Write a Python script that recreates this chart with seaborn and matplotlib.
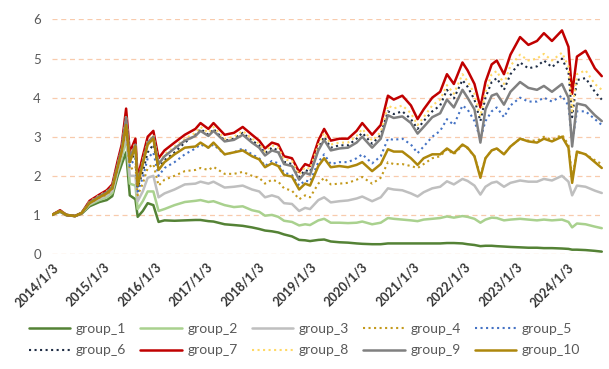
import pandas as pd
import matplotlib
matplotlib.use("Agg")
import matplotlib.pyplot as plt
import seaborn as sns

# sample dates
dates = [
    "2014-01-03", "2014-03-01", "2014-04-15", "2014-06-15", "2014-08-01", "2014-09-26", "2014-12-05",
    "2015-01-26", "2015-03-06", "2015-04-13", "2015-05-12", "2015-06-12", "2015-07-08", "2015-08-17",
    "2015-09-02", "2015-10-08", "2015-11-12", "2015-12-22", "2016-01-28", "2016-03-10", "2016-05-20",
    "2016-08-01", "2016-10-15", "2016-11-20", "2017-01-15", "2017-02-20", "2017-05-10", "2017-07-15",
    "2017-09-15", "2017-11-20", "2018-01-10", "2018-02-20", "2018-04-10", "2018-05-25", "2018-07-05",
    "2018-08-30", "2018-10-20", "2018-12-01", "2019-01-05", "2019-03-05", "2019-04-15", "2019-06-01",
    "2019-08-01", "2019-10-01", "2019-12-01", "2020-01-10", "2020-03-20", "2020-05-20", "2020-07-10",
    "2020-08-20", "2020-10-20", "2020-12-20", "2021-02-05", "2021-03-20", "2021-05-20", "2021-07-15",
    "2021-09-01", "2021-10-20", "2021-12-20", "2022-01-25", "2022-03-15", "2022-04-26", "2022-06-01",
    "2022-07-15", "2022-08-20", "2022-10-10", "2022-11-25", "2023-02-01", "2023-04-01", "2023-06-01",
    "2023-07-20", "2023-09-15", "2023-11-25", "2024-01-10", "2024-02-05", "2024-03-10", "2024-05-10",
    "2024-07-15", "2024-09-02",
]

group_1 = [1.0, 1.08, 0.99, 0.97, 1.03, 1.22, 1.33, 1.38, 1.48, 2.0, 2.3, 2.6, 1.5, 1.4, 0.95, 1.1, 1.3, 1.25,
           0.82, 0.86, 0.85, 0.86, 0.87, 0.87, 0.84, 0.83, 0.76, 0.74, 0.72, 0.68, 0.64, 0.6, 0.58, 0.55, 0.5,
           0.45, 0.36, 0.35, 0.33, 0.36, 0.37, 0.32, 0.3, 0.29, 0.27, 0.26, 0.25, 0.25, 0.27, 0.27, 0.27, 0.27,
           0.27, 0.27, 0.27, 0.27, 0.28, 0.28, 0.27, 0.25, 0.23, 0.2, 0.21, 0.21, 0.2, 0.19, 0.18, 0.17, 0.16,
           0.16, 0.15, 0.15, 0.14, 0.13, 0.11, 0.11, 0.1, 0.08, 0.06]
group_2 = [1.0, 1.1, 1.0, 0.97, 1.05, 1.26, 1.38, 1.45, 1.56, 2.1, 2.45, 2.95, 1.8, 1.75, 1.15, 1.35, 1.6, 1.6,
           1.1, 1.15, 1.25, 1.33, 1.36, 1.38, 1.33, 1.35, 1.25, 1.2, 1.22, 1.12, 1.08, 0.98, 1.0, 0.95, 0.85,
           0.82, 0.73, 0.76, 0.74, 0.86, 0.9, 0.8, 0.8, 0.79, 0.8, 0.83, 0.76, 0.8, 0.92, 0.9, 0.88, 0.86,
           0.84, 0.88, 0.9, 0.92, 0.96, 0.93, 0.97, 0.95, 0.9, 0.8, 0.88, 0.93, 0.92, 0.86, 0.88, 0.9, 0.88,
           0.86, 0.88, 0.86, 0.88, 0.82, 0.68, 0.78, 0.76, 0.7, 0.66]
group_3 = [1.0, 1.1, 1.0, 0.97, 1.05, 1.28, 1.42, 1.5, 1.62, 2.15, 2.55, 3.1, 2.0, 2.0, 1.35, 1.6, 1.95, 2.0,
           1.45, 1.55, 1.65, 1.78, 1.8, 1.85, 1.8, 1.85, 1.7, 1.72, 1.75, 1.65, 1.6, 1.45, 1.5, 1.45, 1.3,
           1.28, 1.1, 1.18, 1.15, 1.38, 1.45, 1.32, 1.35, 1.37, 1.42, 1.47, 1.35, 1.45, 1.68, 1.65, 1.63, 1.55,
           1.47, 1.58, 1.68, 1.72, 1.86, 1.78, 1.92, 1.87, 1.75, 1.52, 1.72, 1.82, 1.85, 1.72, 1.82, 1.88, 1.85,
           1.85, 1.92, 1.88, 2.0, 1.85, 1.5, 1.75, 1.72, 1.62, 1.56]
group_4 = [1.0, 1.1, 1.0, 0.97, 1.05, 1.3, 1.44, 1.52, 1.65, 2.2, 2.6, 3.2, 2.15, 2.25, 1.5, 1.8, 2.2, 2.3,
           1.75, 1.9, 2.0, 2.12, 2.15, 2.2, 2.15, 2.23, 2.05, 2.05, 2.1, 2.0, 1.95, 1.8, 1.9, 1.85, 1.68,
           1.62, 1.4, 1.5, 1.45, 1.8, 1.95, 1.78, 1.8, 1.82, 1.9, 1.97, 1.8, 1.95, 2.35, 2.3, 2.3, 2.25,
           2.2, 2.3, 2.45, 2.5, 2.68, 2.55, 2.78, 2.7, 2.5, 2.0, 2.45, 2.65, 2.7, 2.55, 2.75, 2.95, 2.9,
           2.9, 3.0, 2.92, 3.05, 2.8, 1.95, 2.6, 2.55, 2.4, 2.3]
group_5 = [1.0, 1.1, 1.0, 0.97, 1.05, 1.31, 1.46, 1.55, 1.68, 2.22, 2.62, 3.3, 2.25, 2.45, 1.6, 1.95, 2.45, 2.6,
           2.0, 2.2, 2.35, 2.55, 2.7, 2.8, 2.72, 2.8, 2.55, 2.6, 2.7, 2.55, 2.45, 2.25, 2.38, 2.32, 2.08,
           2.02, 1.75, 1.88, 1.85, 2.35, 2.55, 2.3, 2.35, 2.35, 2.45, 2.55, 2.32, 2.5, 2.95, 2.92, 2.95, 2.8,
           2.58, 2.75, 3.0, 3.15, 3.45, 3.3, 3.8, 3.7, 3.4, 2.95, 3.4, 3.65, 3.75, 3.5, 3.8, 4.0, 3.9,
           3.9, 4.0, 3.9, 4.05, 3.8, 2.85, 3.65, 3.65, 3.45, 3.3]
group_6 = [1.0, 1.1, 1.0, 0.97, 1.05, 1.33, 1.48, 1.57, 1.7, 2.25, 2.66, 3.4, 2.35, 2.6, 1.7, 2.1, 2.6, 2.8,
           2.2, 2.4, 2.6, 2.85, 3.05, 3.2, 3.05, 3.2, 2.9, 2.95, 3.1, 2.9, 2.78, 2.58, 2.72, 2.65, 2.36,
           2.3, 1.97, 2.15, 2.1, 2.72, 3.0, 2.72, 2.78, 2.78, 2.95, 3.1, 2.82, 3.05, 3.65, 3.58, 3.65, 3.45,
           3.2, 3.4, 3.65, 3.8, 4.2, 3.98, 4.45, 4.28, 3.95, 3.4, 4.0, 4.4, 4.5, 4.2, 4.6, 4.9, 4.75,
           4.8, 4.95, 4.78, 5.0, 4.65, 3.5, 4.45, 4.5, 4.15, 3.95]
group_7 = [1.0, 1.12, 1.0, 0.97, 1.05, 1.36, 1.52, 1.63, 1.78, 2.38, 2.8, 3.72, 2.6, 2.95, 1.95, 2.5, 3.0, 3.15,
           2.45, 2.65, 2.85, 3.05, 3.2, 3.35, 3.2, 3.35, 3.05, 3.1, 3.25, 3.05, 2.9, 2.7, 2.85, 2.8, 2.5,
           2.45, 2.1, 2.3, 2.25, 2.9, 3.2, 2.9, 2.95, 2.95, 3.15, 3.35, 3.05, 3.3, 4.05, 3.95, 4.05, 3.8,
           3.45, 3.7, 4.0, 4.15, 4.6, 4.35, 4.9, 4.7, 4.35, 3.75, 4.4, 4.85, 4.95, 4.6, 5.1, 5.55, 5.35,
           5.45, 5.65, 5.45, 5.72, 5.3, 4.1, 5.05, 5.2, 4.75, 4.55]
group_8 = [1.0, 1.11, 1.0, 0.97, 1.05, 1.34, 1.5, 1.6, 1.74, 2.3, 2.72, 3.55, 2.5, 2.85, 1.85, 2.4, 2.9, 3.05,
           2.35, 2.55, 2.75, 2.95, 3.1, 3.25, 3.1, 3.25, 2.95, 3.0, 3.15, 2.95, 2.82, 2.62, 2.78, 2.72, 2.42,
           2.38, 2.03, 2.22, 2.18, 2.8, 3.1, 2.8, 2.85, 2.85, 3.02, 3.2, 2.9, 3.12, 3.8, 3.72, 3.8, 3.6,
           3.3, 3.5, 3.8, 3.95, 4.32, 4.1, 4.6, 4.42, 4.1, 3.52, 4.15, 4.6, 4.68, 4.35, 4.82, 5.1, 4.95,
           5.0, 5.12, 4.95, 5.15, 4.8, 3.65, 4.6, 4.7, 4.35, 4.2]
group_9 = [1.0, 1.1, 1.0, 0.97, 1.05, 1.32, 1.48, 1.58, 1.72, 2.28, 2.7, 3.5, 2.45, 2.8, 1.8, 2.35, 2.85, 3.0,
           2.3, 2.5, 2.7, 2.9, 3.02, 3.15, 3.02, 3.15, 2.88, 2.92, 3.05, 2.85, 2.72, 2.52, 2.65, 2.6, 2.3,
           2.25, 1.9, 2.08, 2.03, 2.65, 2.92, 2.65, 2.7, 2.72, 2.85, 3.0, 2.72, 2.95, 3.55, 3.48, 3.52, 3.35,
           3.08, 3.25, 3.5, 3.6, 3.95, 3.75, 4.2, 4.0, 3.7, 2.85, 3.7, 4.05, 4.1, 3.82, 4.15, 4.4, 4.25,
           4.2, 4.3, 4.15, 4.35, 4.0, 2.75, 3.85, 3.8, 3.55, 3.4]
group_10 = [1.0, 1.1, 1.0, 0.97, 1.05, 1.3, 1.45, 1.55, 1.68, 2.22, 2.62, 3.3, 2.35, 2.75, 1.75, 2.3, 2.8, 2.95,
            2.15, 2.35, 2.55, 2.72, 2.75, 2.85, 2.72, 2.85, 2.55, 2.6, 2.65, 2.5, 2.42, 2.22, 2.32, 2.25, 2.02,
            1.98, 1.65, 1.8, 1.75, 2.25, 2.45, 2.22, 2.25, 2.22, 2.28, 2.35, 2.12, 2.3, 2.68, 2.62, 2.62, 2.45,
            2.28, 2.45, 2.55, 2.55, 2.7, 2.58, 2.8, 2.72, 2.5, 1.95, 2.45, 2.65, 2.7, 2.55, 2.75, 2.95, 2.88,
            2.85, 2.95, 2.88, 3.0, 2.72, 1.82, 2.62, 2.55, 2.35, 2.2]

group_names = ["group_1", "group_2", "group_3", "group_4", "group_5",
               "group_6", "group_7", "group_8", "group_9", "group_10"]
series = [group_1, group_2, group_3, group_4, group_5,
          group_6, group_7, group_8, group_9, group_10]
tick_years = list(range(2014, 2025))

colors = ["#548235", "#A9D18E", "#BFBFBF", "#C49A1C", "#4472C4",
          "#1F2D45", "#C00000", "#FFD966", "#808080", "#AD870C"]
styles = ["-", "-", "-", ":", ":", ":", "-", ":", "-", "-"]

df = pd.DataFrame({"date": pd.to_datetime(dates)})
for name, vals in zip(group_names, series):
    df[name] = vals
long_df = df.melt(id_vars="date", var_name="group", value_name="value")

sns.set_style("white")
plt.rcParams["font.family"] = ["Lato", "DejaVu Sans"]

fig = plt.figure(figsize=(6.09, 3.69), dpi=100)
ax = fig.add_axes([0.0854, 0.3117, 0.9046, 0.6355])

for name, c, ls in zip(group_names, colors, styles):
    sub = long_df[long_df["group"] == name]
    lw = 1.5 if ls == ":" else 1.8
    sns.lineplot(data=sub, x="date", y="value", ax=ax, color=c, linestyle=ls,
                 linewidth=lw, label=name, legend=False)

grid_c = "#F8CBAD"
ax.set_ylim(0, 6)
ax.set_yticks(range(0, 7))
ax.set_xlim(pd.Timestamp("2014-01-03"), pd.Timestamp("2024-09-10"))
ax.yaxis.grid(True, color=grid_c, linestyle=(0, (4, 3)), linewidth=0.9)
ax.xaxis.grid(False)
for s in ax.spines.values():
    s.set_visible(False)

ticks = [pd.Timestamp(f"{y}-01-03") for y in tick_years]
ax.set_xticks(ticks)
ax.set_xticklabels([f"{y}/1/3" for y in tick_years], rotation=45, ha="right",
                   rotation_mode="anchor", fontsize=9, fontweight="bold", color="#333333")
ax.tick_params(axis="x", length=3, color=grid_c, pad=2)
ax.tick_params(axis="y", length=0, labelsize=9.5, labelcolor="#595959", pad=8)
ax.set_xlabel("")
ax.set_ylabel("")

# legend filled row by row (matplotlib fills column-wise)
handles, labels = ax.get_legend_handles_labels()
order = [0, 5, 1, 6, 2, 7, 3, 8, 4, 9]
fig.legend([handles[i] for i in order], [labels[i] for i in order],
           loc="lower center", bbox_to_anchor=(0.5, 0.0), ncol=5,
           frameon=False, fontsize=10, labelcolor="#595959", handlelength=3.0,
           columnspacing=1.0, handletextpad=0.4, labelspacing=0.7)

fig.savefig("out.png", dpi=100)
